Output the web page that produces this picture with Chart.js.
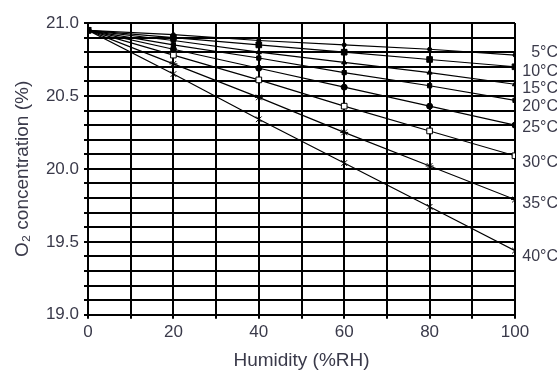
<!DOCTYPE html>
<html>
<head>
<meta charset="utf-8">
<script src="https://cdn.jsdelivr.net/npm/chart.js@4/dist/chart.umd.min.js"></script>
<style>
html,body{margin:0;padding:0;background:#fff;}
#wrap{width:557px;height:372px;position:relative;}
</style>
</head>
<body>
<div id="wrap"><canvas id="c" width="557" height="372"></canvas></div>
<script>
const humidity = [0, 20, 40, 60, 80, 100];
const seriesNames = ['5°C', '10°C', '15°C', '20°C', '25°C', '30°C', '35°C', '40°C'];
const o2_5C  = [20.95, 20.92, 20.88, 20.85, 20.82, 20.78];
const o2_10C = [20.95, 20.90, 20.85, 20.80, 20.75, 20.70];
const o2_15C = [20.95, 20.88, 20.80, 20.73, 20.66, 20.58];
const o2_20C = [20.95, 20.85, 20.76, 20.66, 20.57, 20.47];
const o2_25C = [20.95, 20.82, 20.69, 20.56, 20.43, 20.30];
const o2_30C = [20.95, 20.78, 20.61, 20.43, 20.26, 20.09];
const o2_35C = [20.95, 20.72, 20.49, 20.25, 20.02, 19.79];
const o2_40C = [20.95, 20.65, 20.34, 20.04, 19.74, 19.44];
const labelValues = [20.80, 20.67, 20.55, 20.43, 20.28, 20.04, 19.76, 19.40];
const yTickLabels = [19.0, 19.5, 20.0, 20.5, 21.0];
const xTickLabels = [0, 20, 40, 60, 80, 100];

const allSeries = [o2_5C, o2_10C, o2_15C, o2_20C, o2_25C, o2_30C, o2_35C, o2_40C];
const styles = [
  {pointStyle:'circle', radius:2, fill:'#000'},
  {pointStyle:'rect', radius:4, fill:'#000'},
  {pointStyle:'triangle', radius:3, fill:'#000'},
  {pointStyle:'rect', radius:3, fill:'#000'},
  {pointStyle:'circle', radius:3, fill:'#000'},
  {pointStyle:'rect', radius:4, fill:'#fff'},
  {pointStyle:'star', radius:4, fill:'#000'},
  {pointStyle:'crossRot', radius:4, fill:'#000'}
];

const datasets = allSeries.map((vals, i) => ({
  label: seriesNames[i],
  data: humidity.map((h, j) => ({x: h, y: vals[j]})),
  borderColor: '#000',
  borderWidth: 1.2,
  backgroundColor: styles[i].fill,
  pointStyle: styles[i].pointStyle,
  pointRadius: styles[i].radius,
  pointBorderColor: '#000',
  pointBorderWidth: 1,
  tension: 0,
  fill: false
}));

const endLabels = {
  id: 'endLabels',
  afterDatasetsDraw(chart) {
    const ctx = chart.ctx;
    const y = chart.scales.y;
    ctx.save();
    ctx.font = '16px "Liberation Sans", Arial, sans-serif';
    ctx.fillStyle = '#3a3a4a';
    ctx.textAlign = 'right';
    ctx.textBaseline = 'middle';
    seriesNames.forEach((n, i) => {
      ctx.fillText(n, chart.width + 1, y.getPixelForValue(labelValues[i]));
    });
    ctx.restore();
  }
};

const fam = '"Liberation Sans", Arial, sans-serif';
const tickFont = {family: fam, size: 17};
const titleFont = {family: fam, size: 19};

new Chart(document.getElementById('c'), {
  type: 'line',
  data: {datasets},
  options: {
    responsive: false,
    animation: false,
    layout: {padding: {left: 0, right: 42, top: 23, bottom: 0}},
    plugins: {legend: {display: false}, tooltip: {enabled: false}},
    scales: {
      x: {
        type: 'linear',
        min: 0, max: 100,
        border: {display: true, color: '#000', width: 2},
        grid: {color: '#000', lineWidth: 2, tickLength: 4, drawTicks: true},
        ticks: {
          stepSize: 10,
          color: '#3a3a4a',
          font: tickFont,
          padding: 3.5,
          maxRotation: 0,
          autoSkip: false,
          callback: v => xTickLabels.includes(v) ? String(v) : ''
        },
        title: {display: true, text: 'Humidity (%RH)', color: '#3a3a4a', font: titleFont, padding: {top: 3, bottom: 0}}
      },
      y: {
        type: 'linear',
        min: 19, max: 21,
        afterFit: s => { s.width = 88; },
        border: {display: true, color: '#000', width: 2},
        grid: {color: '#000', lineWidth: 2, tickLength: 4, drawTicks: true},
        ticks: {
          stepSize: 0.1,
          color: '#3a3a4a',
          font: tickFont,
          padding: 5,
          autoSkip: false,
          callback: v => {
            const r = Math.round(v * 10) / 10;
            return yTickLabels.some(t => Math.abs(t - r) < 1e-6) ? r.toFixed(1) : '';
          }
        },
        title: {display: true, text: 'O₂ concentration (%)', color: '#3a3a4a', font: titleFont, padding: {top: 11, bottom: 0}}
      }
    }
  },
  plugins: [endLabels]
});
</script>
</body>
</html>
